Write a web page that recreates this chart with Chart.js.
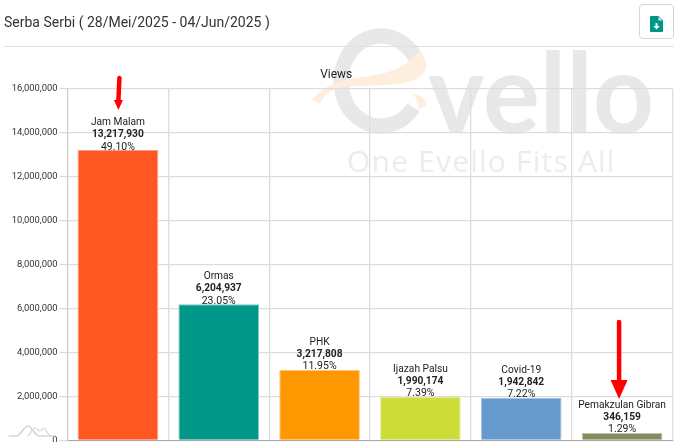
<!DOCTYPE html>
<html>
<head>
<meta charset="utf-8">
<style>
  html, body { margin: 0; padding: 0; background: #fff; overflow: hidden; }
  #page { position: relative; width: 680px; height: 442px; font-family: Roboto, sans-serif; }
  #title { position: absolute; left: 4px; top: 13px; font-size: 14px; line-height: 18px; color: #333; white-space: nowrap; }
  #rule { position: absolute; left: 4px; top: 46px; width: 670px; height: 1px; background: #e0e0e0; }
  #btn { position: absolute; left: 639px; top: 4px; width: 33px; height: 33px; border: 1px solid #d5d5d5; border-radius: 4px; }
  #btn svg { position: absolute; left: 10px; top: 11px; }
  canvas { position: absolute; left: 0; top: 0; }
</style>
</head>
<body>
<div id="page">
  <canvas id="myChart" width="680" height="442"></canvas>
  <div id="title">Serba Serbi ( 28/Mei/2025 - 04/Jun/2025 )</div>
  <div id="rule"></div>
  <div id="btn">
    <svg width="13" height="16" viewBox="0 0 13 16">
      <path d="M1 0H8.5L13 4.5V15a1 1 0 0 1-1 1H1a1 1 0 0 1-1-1V1a1 1 0 0 1 1-1z" fill="#009688"/>
      <path d="M8.5 0.8L12.2 4.5H8.5z" fill="#d9f0ed"/>
      <path d="M5.5 7h2v3h2.2L6.5 13.4 3.3 10h2.2z" fill="#fff"/>
    </svg>
  </div>
</div>
<script src="https://cdn.jsdelivr.net/npm/chart.js@4"></script>
<script>
"use strict";

const topics = ["Jam Malam", "Ormas", "PHK", "Ijazah Palsu", "Covid-19", "Pemakzulan Gibran"];
const views = [13217930, 6204937, 3217808, 1990174, 1942842, 346159];
const shares = ["49.10%", "23.05%", "11.95%", "7.39%", "7.22%", "1.29%"];
const barColors = ["#FF5722", "#009688", "#FF9800", "#CDDC39", "#6699CC", "#838C5E"];
const barBorders = ["#FF9B7C", "#80CBC3", "#FFC880", "#E6EE9C", "#A9C6E3", "#BFC5A6"];

// evello logo behind the grid
const watermark = {
  id: "watermark",
  beforeDraw(chart) {
    const c = chart.ctx;
    c.save();
    c.strokeStyle = "#e8e8e8";
    c.lineWidth = 15;
    c.beginPath();
    c.ellipse(381, 81, 40, 45, 0, -0.28, 0.62, true);
    c.stroke();

    c.fillStyle = "#fdeedd";
    c.beginPath();
    c.moveTo(312, 100);
    c.bezierCurveTo(325, 84, 340, 80, 362, 77);
    c.bezierCurveTo(385, 74, 405, 70, 420, 50);
    c.bezierCurveTo(428, 62, 428, 72, 418, 78);
    c.bezierCurveTo(400, 88, 370, 84, 345, 87);
    c.bezierCurveTo(335, 88, 325, 92, 320, 104);
    c.closePath();
    c.fill();
    c.beginPath();
    c.moveTo(413, 94);
    c.quadraticCurveTo(424, 95, 427, 104);
    c.lineTo(419, 110);
    c.quadraticCurveTo(418, 100, 413, 94);
    c.fill();

    c.fillStyle = "#e8e8e8";
    c.textAlign = "left";
    c.textBaseline = "alphabetic";
    c.font = "bold 112px Lato, sans-serif";
    c.fillText("vello", 428, 133, 226);
    c.fillStyle = "#ececec";
    c.font = "30px 'Open Sans', sans-serif";
    c.letterSpacing = "1.2px";
    c.fillText("One Evello Fits All", 347, 172);
    c.restore();
  },
};

// three line label over every bar
const barLabels = {
  id: "barLabels",
  afterDatasetsDraw(chart) {
    const c = chart.ctx;
    const bars = chart.getDatasetMeta(0).data;
    c.save();
    c.textAlign = "center";
    c.textBaseline = "alphabetic";
    c.fillStyle = "#222";
    bars.forEach((bar, i) => {
      c.font = "10.5px Roboto, sans-serif";
      c.fillText(shares[i], bar.x, bar.y - 0.5);
      c.font = "bold 10.2px Roboto, sans-serif";
      c.fillText(views[i].toLocaleString("en-US"), bar.x, bar.y - 13);
      c.font = "10.2px Roboto, sans-serif";
      c.fillText(topics[i], bar.x, bar.y - 25);
    });
    c.restore();
  },
};

// hand drawn red arrows and the small corner mark
function redArrow(c, x1, y1, x2, y2, headLen, headW, w) {
  c.strokeStyle = "#ff0000";
  c.fillStyle = "#ff0000";
  c.lineWidth = w;
  c.lineCap = "round";
  c.beginPath();
  c.moveTo(x1, y1);
  c.lineTo(x2, y2 - headLen);
  c.stroke();
  c.beginPath();
  c.moveTo(x2 - headW / 2, y2 - headLen);
  c.lineTo(x2 + headW / 2, y2 - headLen);
  c.lineTo(x2, y2);
  c.closePath();
  c.fill();
}

const overlays = {
  id: "overlays",
  afterDraw(chart) {
    const c = chart.ctx;
    const bars = chart.getDatasetMeta(0).data;
    c.save();
    redArrow(c, bars[0].x + 1.5, 78, bars[0].x + 0.5, 110, 10, 9, 4.5);
    redArrow(c, bars[5].x - 3, 322, bars[5].x - 3, 399, 19, 17, 4.5);

    c.lineWidth = 1.2;
    c.strokeStyle = "#c4c4c4";
    c.beginPath();
    c.moveTo(9, 436);
    c.lineTo(17, 436);
    c.bezierCurveTo(22, 434, 24, 426, 28, 426);
    c.bezierCurveTo(32, 426, 34, 436, 40, 436);
    c.lineTo(55, 436);
    c.stroke();
    c.strokeStyle = "#d8d8d8";
    c.beginPath();
    c.moveTo(28, 436);
    c.bezierCurveTo(31, 434, 32, 428, 35, 428);
    c.bezierCurveTo(37, 428, 38, 431, 40, 431);
    c.bezierCurveTo(42, 431, 43, 428, 44, 428);
    c.bezierCurveTo(46, 428, 47, 436, 52, 436);
    c.stroke();
    c.restore();
  },
};

const ctx = document.getElementById("myChart").getContext("2d");
const myChart = new Chart(ctx, {
  type: "bar",
  data: {
    labels: topics,
    datasets: [
      {
        label: "Views",
        data: views,
        backgroundColor: barColors,
        borderColor: barBorders,
        borderWidth: 1,
        barPercentage: 0.8,
        categoryPercentage: 1,
      },
    ],
  },
  plugins: [watermark, barLabels, overlays],
  options: {
    responsive: false,
    animation: false,
    layout: {
      padding: { top: 68, right: 7.5, bottom: 1.5, left: 0 },
    },
    plugins: {
      legend: {
        display: false,
      },
      tooltip: {
        enabled: false,
      },
      title: {
        display: true,
        text: "Views",
        color: "#222",
        font: { family: "Roboto", size: 12, weight: "normal" },
        padding: { top: 0, bottom: 6.5 },
      },
    },
    scales: {
      x: {
        afterFit(scale) {
          scale.height = 0;
        },
        ticks: { display: false },
        grid: { color: "#dddddd", lineWidth: 1.3, drawTicks: false },
        border: { color: "#aaaaaa" },
      },
      y: {
        min: 0,
        max: 16000000,
        afterFit(scale) {
          scale.width = 67.5;
          // let the 0 label hang over the canvas edge, it is cut off there
          scale.paddingBottom = 0;
          scale.paddingTop = 0;
        },
        ticks: {
          stepSize: 2000000,
          color: "#333",
          padding: 2,
          font: { family: "Roboto", size: 9.4 },
          callback: (v) => v.toLocaleString("en-US"),
        },
        grid: { color: "#dddddd", lineWidth: 1.3, tickLength: 8 },
        border: { color: "#cccccc" },
      },
    },
  },
});
</script>
</body>
</html>
